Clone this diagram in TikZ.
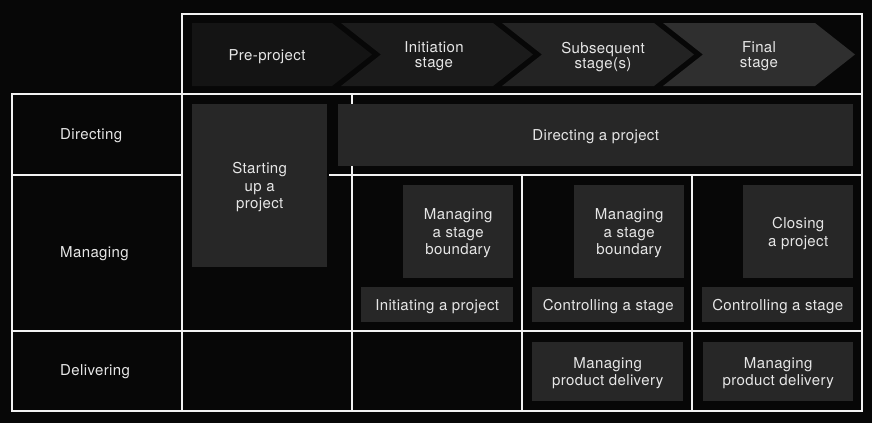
\documentclass[tikz,border=0pt]{standalone}
\usepackage{fontspec}
\setmainfont[LetterSpace=2.5]{TeX Gyre Heros}
\usepackage{tikz}
\usetikzlibrary{positioning}
\definecolor{bg}{HTML}{070707}
\definecolor{chevA}{HTML}{141414}
\definecolor{chevB}{HTML}{1B1B1B}
\definecolor{chevC}{HTML}{232323}
\definecolor{chevD}{HTML}{2F2F2F}
\definecolor{boxgrey}{HTML}{272727}
\definecolor{rule}{HTML}{F2F2F2}
\definecolor{txt}{HTML}{E6E6E6}
\tikzstyle{proc} = [anchor=north west,fill=boxgrey,text=txt,align=center,inner sep=0pt,text depth=0pt,font=\fontsize{15}{17.5}\selectfont]
\tikzstyle{lane} = [anchor=west,inner sep=0pt,text=txt,text depth=0pt,font=\fontsize{15}{17.5}\selectfont]
\tikzstyle{stagetext} = [text=txt,align=center,text depth=0pt,font=\fontsize{15}{15}\selectfont]
\tikzstyle{gridline} = [draw=rule,line width=2pt]

\begin{document}
\begin{tikzpicture}[x=1pt,y=-1pt]
	\fill[bg] (0,0) rectangle (872,423);
	\useasboundingbox (0,0) rectangle (872,423);
	% stages
	\fill[chevA] (192,23) -- (332,23) -- (372,54.5) -- (332,86) -- (192,86) -- cycle;
	\fill[chevB] (341,23) -- (493,23) -- (533,54.5) -- (493,86) -- (341,86) -- (381,54.5) -- cycle;
	\fill[chevC] (502,23) -- (654,23) -- (694,54.5) -- (654,86) -- (502,86) -- (542,54.5) -- cycle;
	\fill[chevD] (663,23) -- (815,23) -- (855,54.5) -- (815,86) -- (663,86) -- (703,54.5) -- cycle;
	\node[stagetext](st_1) at (267,55){Pre-project};
	\node[stagetext](st_2) at (434,55){Initiation\\stage};
	\node[stagetext](st_3) at (603,55){Subsequent\\stage(s)};
	\node[stagetext](st_4) at (759,55){Final\\stage};
	% table
	\draw[gridline] (182,14) rectangle (862,94);
	\draw[gridline] (12,94) rectangle (862,411);
	\draw[gridline] (182,94) -- (182,411);
	\draw[gridline] (352,94) -- (352,411);
	\draw[gridline] (12,175) -- (182,175);
	\draw[gridline] (329,175) -- (862,175);
	\draw[gridline] (12,331) -- (862,331);
	\draw[gridline] (522,175) -- (522,411);
	\draw[gridline] (692,175) -- (692,411);
	\node[lane](l_dir) at (60,134){Directing};
	\node[lane](l_man) at (60,252){Managing};
	\node[lane](l_del) at (60,370){Delivering};
	% processes
	\node[proc,minimum width=135pt,minimum height=163pt](su) at (192,104){Starting\\up a\\project};
	\node[proc,minimum width=515pt,minimum height=62pt](dp) at (338,104){Directing a project};
	\node[proc,minimum width=110pt,minimum height=93pt](msb_2) at (403,185){Managing\\a stage\\boundary};
	\node[proc,minimum width=152pt,minimum height=35pt](ip) at (361,287){Initiating a project};
	\node[proc,minimum width=110pt,minimum height=93pt](msb_3) at (574,185){Managing\\a stage\\boundary};
	\node[proc,minimum width=152pt,minimum height=35pt](cs_3) at (532,287){Controlling a stage};
	\node[proc,minimum width=110pt,minimum height=93pt](cp) at (743,185){Closing\\a project};
	\node[proc,minimum width=151pt,minimum height=35pt](cs_4) at (702,287){Controlling a stage};
	\node[proc,minimum width=151pt,minimum height=59pt](mpd_3) at (532,342){Managing\\product delivery};
	\node[proc,minimum width=150pt,minimum height=59pt](mpd_4) at (703,342){Managing\\product delivery};
\end{tikzpicture}
\end{document}
